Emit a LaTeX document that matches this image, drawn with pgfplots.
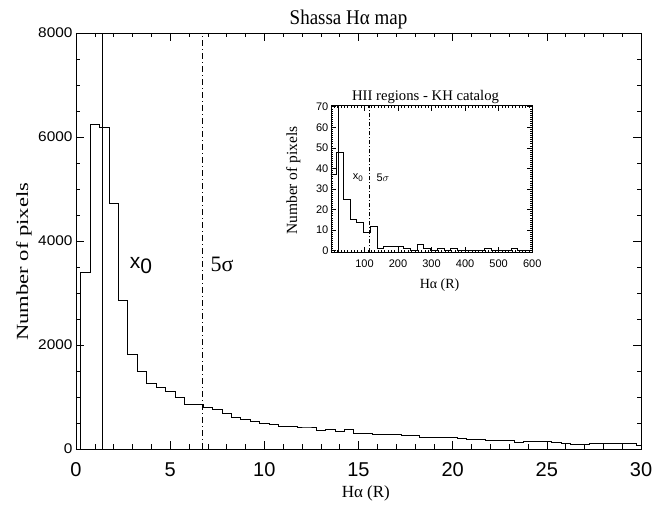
\documentclass[border=0pt]{standalone}
\usepackage{fontspec}
\setmainfont{Liberation Serif}
\setsansfont{Liberation Sans}
\usepackage{pgfplots}
\pgfplotsset{compat=1.18}

\begin{document}
\begin{tikzpicture}
\begin{axis}[
  name=main,
  scale only axis,
  width=565pt, height=416pt,
  xmin=0, xmax=30, ymin=0, ymax=8000,
  xtick={0,5,...,30}, ytick={0,2000,...,8000},
  minor x tick num=4, minor y tick num=3,
  tick align=inside, tick pos=both,
  major tick length=8pt, minor tick length=4.5pt,
  every tick/.style={black, line width=0.6pt},
  axis line style={line width=0.8pt},
  scaled y ticks=false,
  /pgf/number format/1000 sep={},
  /pgf/number format/assume math mode=true,
  xticklabel style={font=\sffamily\fontsize{20}{20}\selectfont, yshift=-10pt},
  yticklabel style={font=\sffamily\fontsize{14}{14}\selectfont},
  yticklabel={\scalebox{1.1}[1]{\pgfmathprintnumber{\tick}}},
  title={\scalebox{1}[1.1]{Shassa Hα map}},
  title style={font=\fontsize{19}{19}\selectfont, anchor=center, yshift=8pt, xshift=-10pt},
  xlabel={Hα (R)}, ylabel={\scalebox{1.33}[1]{Number of pixels}},
  xlabel style={font=\fontsize{17}{17}\selectfont, at={(axis description cs:0.513,-0.106)}, anchor=center},
  ylabel style={font=\fontsize{17}{17}\selectfont, at={(axis description cs:-0.092,0.45)}, anchor=center},
]
\addplot[const plot, black, line width=0.7pt] coordinates {
  (0.25,0) (0.25,3400) (0.75,6250) (1.25,6190) (1.75,4715) (2.25,2860)
  (2.75,1820) (3.25,1500) (3.75,1255) (4.25,1180) (4.75,1100) (5.25,1000)
  (5.75,858) (6.25,858) (6.75,794) (7.25,756) (7.75,680) (8.25,615)
  (8.75,563) (9.25,540) (9.75,500) (10.25,480) (10.75,436) (11.25,436)
  (11.75,423) (12.25,423) (12.75,352) (13.25,385) (13.75,333) (14.25,372)
  (14.75,295) (15.25,295) (15.75,290) (16.25,275) (16.75,275) (17.25,256)
  (17.75,256) (18.25,230) (18.75,230) (19.25,218) (19.75,215) (20.25,210)
  (20.75,180) (21.25,180) (21.75,175) (22.25,167) (22.75,160) (23.25,128)
  (23.75,154) (24.25,141) (24.75,141) (25.25,128) (25.75,110) (26.25,90)
  (26.75,95) (27.25,103) (27.75,103) (28.25,103) (28.75,110) (29.25,110)
  (29.75,77) (30.25,77)
};
\addplot[black, line width=0.7pt] coordinates {(1.38,0) (1.38,8000)};
\addplot[black, line width=0.7pt, dash pattern=on 6pt off 3pt on 1pt off 3pt] coordinates {(6.71,0) (6.71,8000)};
\node[font=\sffamily\fontsize{21}{21}\selectfont] at (axis cs:3.45,3520) {x\raisebox{-5pt}{0}};
\node[font=\fontsize{22}{22}\selectfont] at (axis cs:7.75,3550) {5σ};
\end{axis}

\begin{axis}[
  at={(254.9pt,196.7pt)}, anchor=south west,
  scale only axis,
  width=201.3pt, height=146.6pt,
  xmin=0, xmax=600, ymin=-0.78, ymax=70.5,
  xtick={0,100,...,600}, xticklabels={,100,200,300,400,500,600},
  ytick={0,10,...,70},
  minor x tick num=9, minor y tick num=9,
  tick align=inside, tick pos=both,
  major tick length=5pt, minor tick length=2.5pt,
  every tick/.style={black, line width=0.5pt},
  axis line style={line width=0.8pt},
  /pgf/number format/assume math mode=true,
  tick label style={font=\sffamily\fontsize{11}{11}\selectfont},
  xticklabel style={yshift=-4pt},
  yticklabel style={xshift=1pt},
  title={HII regions - KH catalog},
  title style={font=\fontsize{14.7}{14.7}\selectfont, at={(axis description cs:0.47,1)}, anchor=center, yshift=3pt},
  xlabel={Hα (R)}, ylabel={Number of pixels},
  xlabel style={font=\fontsize{14}{14}\selectfont, at={(axis description cs:0.54,-0.225)}, anchor=center},
  ylabel style={font=\fontsize{15.5}{15.5}\selectfont, at={(axis description cs:-0.187,0.49)}, anchor=center},
]
\addplot[const plot, black, line width=0.7pt] coordinates {
  (-3,37) (17,48) (37,25) (57,15) (77,14) (97,9) (117,12) (137,1)
  (157,2) (177,2) (197,2) (217,1) (237,0) (257,3) (277,1) (297,0)
  (317,1) (337,0) (357,1) (377,0) (457,1) (477,0) (537,1) (557,0) (600,0)
};
\addplot[black, line width=0.7pt] coordinates {(23,-0.78) (23,70.5)};
\addplot[black, line width=0.6pt, dash pattern=on 4pt off 2pt on 1pt off 2pt] coordinates {(114,-0.78) (114,70.5)};
\node[font=\sffamily\fontsize{11}{11}\selectfont] at (axis cs:80,35.3) {x\raisebox{-2pt}{\fontsize{8}{8}\selectfont 0}};
\node[font=\sffamily\fontsize{11}{11}\selectfont] at (axis cs:155,35.3) {5$\sigma$};
\end{axis}
\pgfresetboundingbox
\path[use as bounding box] (-76pt,-61pt) rectangle (580pt,449pt);
\end{tikzpicture}
\end{document}
